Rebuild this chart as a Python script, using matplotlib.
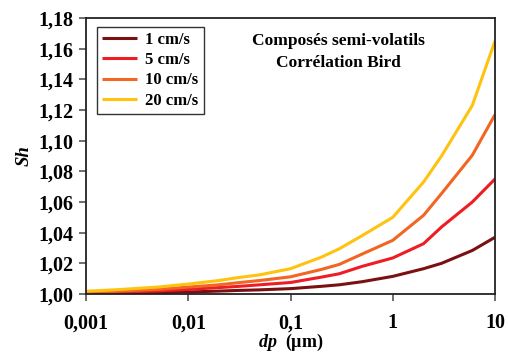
import matplotlib
matplotlib.use("Agg")
import matplotlib.pyplot as plt
from matplotlib.ticker import FixedLocator, FixedFormatter, NullLocator

dp = [0.001, 0.002, 0.005, 0.01, 0.02, 0.03, 0.05, 0.1, 0.2, 0.3, 0.5, 1, 2, 3, 6, 10]
sh_1 = [1.0003, 1.0005, 1.0009, 1.0013, 1.0019, 1.0023, 1.0027, 1.0035, 1.005, 1.006, 1.008, 1.0115, 1.0165, 1.020, 1.0284, 1.037]
sh_5 = [1.0008, 1.0012, 1.002, 1.003, 1.0042, 1.0049, 1.006, 1.0075, 1.011, 1.0132, 1.018, 1.0235, 1.0328, 1.0437, 1.060, 1.075]
sh_10 = [1.0012, 1.0018, 1.003, 1.0045, 1.006, 1.0073, 1.0088, 1.0112, 1.016, 1.0193, 1.026, 1.035, 1.0513, 1.0655, 1.0905, 1.117]
sh_20 = [1.0018, 1.0028, 1.0045, 1.0065, 1.0088, 1.0106, 1.0125, 1.0165, 1.024, 1.0295, 1.038, 1.050, 1.073, 1.090, 1.123, 1.165]

series_labels = ["1 cm/s", "5 cm/s", "10 cm/s", "20 cm/s"]
colors = ["#7a1010", "#ee1c25", "#f26522", "#ffc20e"]

xticks = [0.001, 0.01, 0.1, 1, 10]
xtick_labels = ["0,001", "0,01", "0,1", "1", "10"]
yticks = [1.00, 1.02, 1.04, 1.06, 1.08, 1.10, 1.12, 1.14, 1.16, 1.18]
ytick_labels = ["1,00", "1,02", "1,04", "1,06", "1,08", "1,10", "1,12", "1,14", "1,16", "1,18"]

plt.rcParams['font.family'] = ['Liberation Serif', 'DejaVu Serif']
plt.rcParams['font.weight'] = 'bold'
plt.rcParams['mathtext.fontset'] = 'custom'
plt.rcParams['mathtext.it'] = 'Liberation Serif:italic:bold'
plt.rcParams['mathtext.rm'] = 'Liberation Serif:bold'
plt.rcParams['mathtext.bf'] = 'Liberation Serif:bold'

fig = plt.figure(figsize=(5.08, 3.53), dpi=100)
ax = fig.add_axes([86/508, 1-294/353, (495-86)/508, (294-18)/353])

for ys, lab, c in zip([sh_1, sh_5, sh_10, sh_20], series_labels, colors):
    ax.plot(dp, ys, color=c, lw=2.2, label=lab, solid_capstyle='butt')

ax.set_xscale('log')
ax.set_xlim(0.001, 10)
ax.set_ylim(1.0, 1.18)
ax.xaxis.set_major_locator(FixedLocator(xticks))
ax.xaxis.set_major_formatter(FixedFormatter(xtick_labels))
ax.xaxis.set_minor_locator(NullLocator())
ax.yaxis.set_major_locator(FixedLocator(yticks))
ax.yaxis.set_major_formatter(FixedFormatter(ytick_labels))

ax.tick_params(axis='both', direction='out', length=5, width=1.2, color='#555555',
               labelsize=14.5, pad=4)
ax.tick_params(axis='x', pad=9)
for lbl in ax.get_xticklabels() + ax.get_yticklabels():
    lbl.set_fontweight('bold')
for s in ax.spines.values():
    s.set_linewidth(1.3)
    s.set_color('#222222')

ax.set_xlabel(r"$\mathit{dp}$  (µm)", fontsize=13, fontweight='bold', labelpad=-1)
ax.set_ylabel("Sh", fontsize=13.5, fontweight='bold', fontstyle='italic', labelpad=4)

leg = ax.legend(loc='upper left', bbox_to_anchor=(0.027, 0.967), borderaxespad=0,
                fancybox=False, edgecolor='#333333', framealpha=1,
                prop={'family': 'Liberation Serif', 'weight': 'bold', 'size': 12},
                handlelength=2.1, handletextpad=0.5, labelspacing=0.25,
                borderpad=0.3)
leg.get_frame().set_linewidth(1.0)

ax.text(0.617, 0.877, "Composés semi-volatils\nCorrélation Bird", transform=ax.transAxes,
        ha='center', va='center', fontsize=12.5, fontweight='bold', linespacing=1.45)

fig.savefig("out.png", dpi=100)
